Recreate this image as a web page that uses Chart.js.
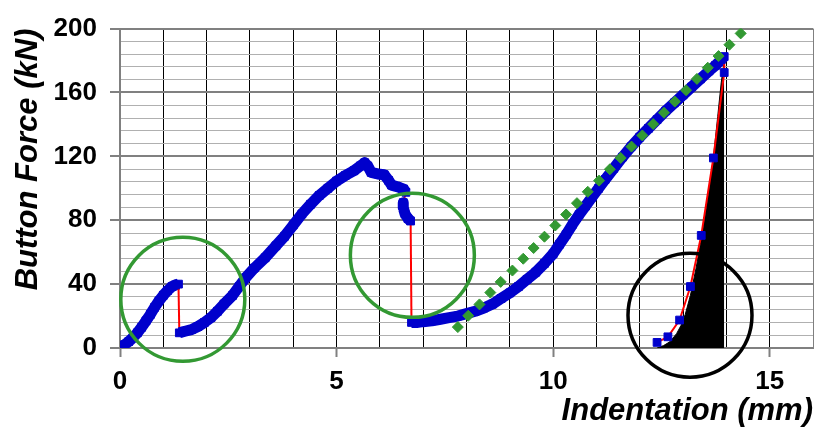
<!DOCTYPE html>
<html>
<head>
<meta charset="utf-8">
<script src="https://cdn.jsdelivr.net/npm/chart.js@4.4.0/dist/chart.umd.min.js"></script>
<style>
  html, body { margin: 0; padding: 0; background: #fff; }
  #wrap { width: 822px; height: 430px; }
</style>
</head>
<body>
<div id="wrap"><canvas id="chart" width="822" height="430"></canvas></div>
<script>
// measured curve, split where the load drops suddenly
const branch1X = [0.0, 0.1, 0.2, 0.3, 0.4, 0.5, 0.6, 0.7, 0.8, 0.9, 1.0, 1.1, 1.2, 1.28, 1.35];
const branch1Y = [0.5, 2, 4, 6.5, 9.5, 13, 17, 21, 25.5, 29.5, 33, 36, 38.5, 39.5, 40];

const branch2X = [1.37, 1.5, 1.65, 1.8, 1.95, 2.1, 2.25, 2.4, 2.6, 2.75, 2.9, 3.1, 3.35, 3.6, 3.8, 4.0, 4.2, 4.4, 4.6, 4.8, 5.0, 5.2, 5.4, 5.55, 5.65, 5.72, 5.8, 5.95, 6.1, 6.2, 6.27, 6.4, 6.55, 6.6];
const branch2Y = [9.5, 10.5, 11.5, 13.5, 16, 19, 23, 27.5, 33, 38.5, 44, 50, 56.5, 64, 70, 77, 84, 90, 95.5, 100, 104.5, 108, 111, 114, 116, 114, 110, 109, 108.5, 105, 102, 101, 99.5, 97.5];

const branch3X = [6.54, 6.54, 6.58, 6.65, 6.71];
const branch3Y = [91, 88, 84, 81, 79.5];

const branch4X = [6.73, 6.85, 7.0, 7.2, 7.4, 7.6, 7.8, 8.0, 8.2, 8.4, 8.6, 8.8, 9.0, 9.2, 9.4, 9.6, 9.8, 10.0, 10.15, 10.3, 10.45, 10.6, 10.75, 10.9, 11.05, 11.2, 11.4, 11.6, 11.8, 12.0, 12.2, 12.4, 12.6, 12.8, 13.0, 13.2, 13.4, 13.6, 13.75, 13.88, 13.95];
const branch4Y = [16, 16, 16.5, 17, 18, 19, 20, 21.5, 23, 25, 27.5, 31, 34.5, 38.5, 43, 47.5, 53, 59, 65, 71, 77.5, 83.5, 89, 94.5, 100, 105.5, 112.5, 119.5, 126, 132, 137.5, 143, 148.5, 153.5, 158.5, 163.5, 168.5, 173.5, 177, 180.5, 182.5];

// unloading at the end of the test
const unloadX = [13.95, 13.7, 13.42, 13.17, 12.92, 12.65, 12.4];
const unloadY = [172.5, 119, 70.5, 38.5, 17.5, 7, 3.5];

// black area under the unloading curve
const areaX = [12.4, 12.55, 12.7, 12.85, 12.95, 13.05, 13.17, 13.3, 13.42, 13.55, 13.7, 13.8, 13.88, 13.95];
const areaY = [0, 1.5, 4, 9, 14, 21, 33, 50, 68, 90, 119, 145, 166, 180];

// green dotted straight line
const diamondX = [7.80, 8.04, 8.30, 8.55, 8.79, 9.06, 9.31, 9.55, 9.80, 10.05, 10.30, 10.55, 10.80, 11.06, 11.31, 11.56, 11.81, 12.06, 12.31, 12.56, 12.81, 13.07, 13.32, 13.57, 13.82, 14.07, 14.33];
const diamondY = [13.1, 20.2, 27.3, 34.7, 41.4, 48.5, 55.9, 62.6, 69.7, 76.7, 83.6, 90.7, 97.8, 104.8, 111.9, 119.0, 126.1, 133.1, 140.2, 147.3, 154.3, 161.4, 168.5, 175.5, 182.8, 189.9, 197.0];

// circles around the events (centres in data units)
const greenCircleX = [1.45, 6.75];
const greenCircleY = [30.5, 58];
const blackCircleX = [13.16];
const blackCircleY = [20.5];

// tick labels
const xTickLabels = [0, 5, 10, 15];
const yTickLabels = [0, 40, 80, 120, 160, 200];

const BLUE = "#0000cc";
const RED = "#ff0000";
const GREEN = "#339933";
const FONT = "'Liberation Sans', Arial, sans-serif";

const toPoints = (xs, ys) => xs.map((x, i) => ({ x: x, y: ys[i] }));

// whole path, remembering which branch each point comes from
const branches = [
    [branch1X, branch1Y],
    [branch2X, branch2Y],
    [branch3X, branch3Y],
    [branch4X, branch4Y],
    [unloadX, unloadY]
];
const UNLOAD = branches.length - 1;
const pathPoints = [];
const pathBranch = [];
branches.forEach(([xs, ys], b) => {
    xs.forEach((x, i) => {
        pathPoints.push({ x: x, y: ys[i] });
        pathBranch.push(b);
    });
});

// thick blue while loading, thin red on the jumps and the unloading
function isLoading(ctx) {
    const a = pathBranch[ctx.p0DataIndex];
    const b = pathBranch[ctx.p1DataIndex];
    return a === b && a !== UNLOAD;
}

function circleSet(xs, ys, color) {
    return {
        type: "bubble",
        data: toPoints(xs, ys),
        radius: 62,
        borderWidth: 3.5,
        borderColor: color,
        backgroundColor: "rgba(0,0,0,0)",
        clip: false
    };
}

const chart = new Chart(document.getElementById("chart").getContext("2d"), {
    type: "line",
    data: {
        datasets: [
            circleSet(greenCircleX, greenCircleY, GREEN),
            circleSet(blackCircleX, blackCircleY, "#000"),
            {
                data: toPoints(diamondX, diamondY),
                showLine: false,
                pointStyle: "rectRot",
                pointRadius: 5.5,
                pointBorderWidth: 1,
                pointBackgroundColor: GREEN,
                pointBorderColor: GREEN
            },
            {
                data: pathPoints,
                borderColor: RED,
                borderWidth: 2,
                borderCapStyle: "butt",
                borderJoinStyle: "round",
                segment: {
                    borderColor: ctx => isLoading(ctx) ? BLUE : RED,
                    borderWidth: ctx => isLoading(ctx) ? 11 : 2
                },
                pointStyle: "rect",
                pointRadius: 5.5,
                pointBorderWidth: 1,
                pointBackgroundColor: BLUE,
                pointBorderColor: BLUE
            },
            {
                data: toPoints(areaX, areaY),
                fill: "origin",
                backgroundColor: "#000",
                borderColor: "#000",
                borderWidth: 1,
                pointRadius: 0
            }
        ]
    },
    options: {
        responsive: false,
        animation: false,
        // big circles must not shrink the plot area
        layout: { autoPadding: false, padding: { top: 18, right: 5, left: 0, bottom: 0 } },
        plugins: {
            legend: { display: false },
            tooltip: { enabled: false }
        },
        scales: {
            x: {
                type: "linear",
                min: 0,
                max: 16,
                afterFit: s => { s.height = 82; },
                border: { color: "#808080", width: 2 },
                grid: {
                    color: c => (c.tick.value === 0 || c.tick.value === 16) ? "#808080" : "#000",
                    lineWidth: 1,
                    tickLength: 9,
                    tickWidth: 2,
                    tickColor: c => (c.tick && xTickLabels.includes(c.tick.value)) ? "#808080" : "rgba(0,0,0,0)"
                },
                ticks: {
                    stepSize: 1,
                    autoSkip: false,
                    maxRotation: 0,
                    padding: 9,
                    color: "#000",
                    font: { family: FONT, size: 26, weight: "bold" },
                    callback: v => xTickLabels.includes(v) ? String(v) : ""
                },
                title: {
                    display: true,
                    text: "Indentation (mm)",
                    align: "end",
                    color: "#000",
                    padding: { top: 0, bottom: 0 },
                    font: { family: FONT, size: 31, weight: "bold", style: "italic" }
                }
            },
            y: {
                type: "linear",
                min: 0,
                max: 200,
                afterFit: s => { s.width = 120; },
                border: { color: "#808080", width: 2 },
                grid: {
                    color: c => yTickLabels.includes(c.tick.value) ? "#808080" : "#b0b0b0",
                    lineWidth: c => yTickLabels.includes(c.tick.value) ? 2 : 1,
                    tickLength: 10,
                    tickWidth: 2,
                    tickColor: c => (c.tick && yTickLabels.includes(c.tick.value)) ? "#808080" : "rgba(0,0,0,0)"
                },
                ticks: {
                    stepSize: 8,
                    autoSkip: false,
                    padding: 13,
                    color: "#000",
                    font: { family: FONT, size: 26, weight: "bold" },
                    callback: v => yTickLabels.includes(v) ? String(v) : ""
                },
                title: {
                    display: true,
                    text: "Button Force (kN)",
                    align: "end",
                    color: "#000",
                    padding: { top: 10, bottom: 0 },
                    font: { family: FONT, size: 31, weight: "bold", style: "italic" }
                }
            }
        }
    }
});
</script>
</body>
</html>
